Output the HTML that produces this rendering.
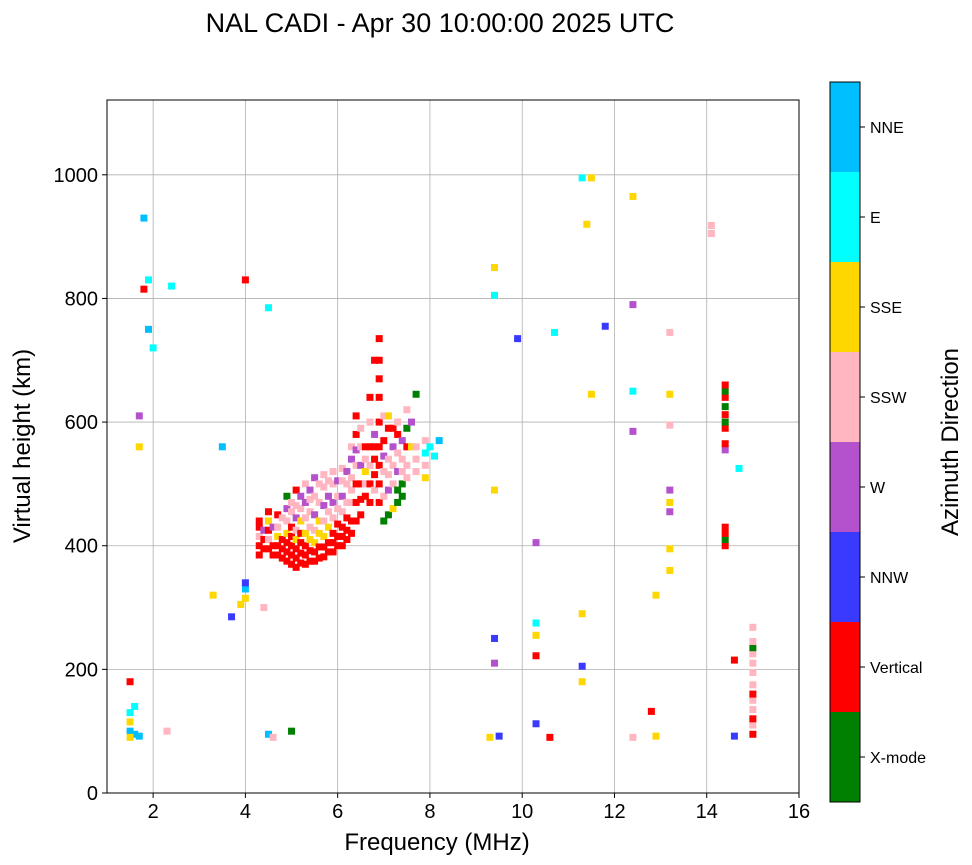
<!DOCTYPE html>
<html><head><meta charset="utf-8">
<style>
body{margin:0;background:#fff;font-family:"Liberation Sans",sans-serif;}
svg{display:block}
</style></head>
<body>
<svg id="chart" width="972" height="865" viewBox="0 0 972 865" xmlns="http://www.w3.org/2000/svg">
<text x="440" y="32" text-anchor="middle" font-size="27" font-family="Liberation Sans">NAL CADI - Apr 30 10:00:00 2025 UTC</text>
<g id="grid"></g>
<g id="marks"></g>
<rect x="107" y="100" width="692" height="693" fill="none" stroke="#000" stroke-width="1"/>
<g id="axes"></g>
<text x="437" y="850" text-anchor="middle" font-size="24">Frequency (MHz)</text>
<text transform="translate(30,446) rotate(-90)" text-anchor="middle" font-size="24">Virtual height (km)</text>
<g id="cbar"></g>
<text transform="translate(958,442) rotate(-90)" text-anchor="middle" font-size="24">Azimuth Direction</text>
</svg>
<script>
const xTicks=[2,4,6,8,10,12,14,16];
const yTicks=[0,200,400,600,800,1000];
const directions=["X-mode","Vertical","NNW","W","SSW","SSE","E","NNE"];
const dirColors=["#008000","#ff0000","#3a3aff","#b452cd","#ffb6c1","#ffd700","#00ffff","#00bfff"];
// [frequency MHz, virtual height km, direction index]
const echoes=[
[4.3,385,1],[4.3,400,1],[4.3,415,4],[4.3,430,1],[4.3,440,1],[4.4,410,1],[4.4,425,3],[4.4,395,1],
[4.5,395,1],[4.5,410,4],[4.5,425,1],[4.5,440,5],[4.5,455,1],[4.6,430,3],[4.6,400,1],[4.6,385,1],
[4.7,385,1],[4.7,400,1],[4.7,415,5],[4.7,430,4],[4.7,450,1],[4.8,395,1],[4.8,410,1],[4.8,445,4],[4.8,380,1],
[4.9,375,1],[4.9,390,1],[4.9,405,1],[4.9,420,5],[4.9,440,4],[4.9,460,3],[4.9,480,0],
[5.0,370,1],[5.0,385,1],[5.0,400,1],[5.0,430,1],[5.0,470,4],[5.0,415,1],[5.0,455,4],
[5.1,365,1],[5.1,380,1],[5.1,395,1],[5.1,410,5],[5.1,425,4],[5.1,445,3],[5.1,465,4],[5.1,490,1],
[5.2,372,1],[5.2,388,1],[5.2,405,1],[5.2,440,5],[5.2,480,3],[5.2,420,1],[5.2,460,4],
[5.3,370,1],[5.3,385,1],[5.3,400,1],[5.3,420,5],[5.3,445,4],[5.3,470,3],[5.3,500,4],
[5.4,375,1],[5.4,392,1],[5.4,410,5],[5.4,455,4],[5.4,490,3],[5.4,430,4],[5.4,475,4],
[5.5,375,1],[5.5,390,1],[5.5,405,5],[5.5,425,4],[5.5,450,3],[5.5,480,4],[5.5,510,3],
[5.6,380,1],[5.6,398,1],[5.6,420,5],[5.6,470,4],[5.6,500,4],[5.6,440,5],
[5.7,382,1],[5.7,398,1],[5.7,415,5],[5.7,440,4],[5.7,465,3],[5.7,495,4],[5.7,515,4],
[5.8,390,1],[5.8,405,1],[5.8,430,5],[5.8,480,3],[5.8,455,4],[5.8,505,4],
[5.9,390,1],[5.9,405,1],[5.9,420,1],[5.9,445,4],[5.9,470,3],[5.9,500,4],[5.9,520,4],
[6.0,400,1],[6.0,415,1],[6.0,435,1],[6.0,480,4],[6.0,460,4],[6.0,505,3],
[6.1,400,1],[6.1,415,1],[6.1,430,1],[6.1,455,4],[6.1,480,3],[6.1,505,4],[6.1,525,4],
[6.2,410,1],[6.2,425,1],[6.2,445,1],[6.2,500,4],[6.2,520,3],[6.2,470,4],
[6.3,420,1],[6.3,440,1],[6.3,470,4],[6.3,510,4],[6.3,540,3],[6.3,560,4],[6.3,490,4],
[6.4,440,1],[6.4,470,1],[6.4,530,4],[6.4,580,1],[6.4,610,1],[6.4,500,1],[6.4,555,3],
[6.5,450,1],[6.5,475,1],[6.5,500,1],[6.5,530,3],[6.5,560,4],[6.5,590,4],
[6.6,480,1],[6.6,520,5],[6.6,560,1],[6.6,500,4],[6.6,540,4],
[6.7,470,1],[6.7,500,1],[6.7,530,4],[6.7,560,1],[6.7,600,4],[6.7,640,1],
[6.8,490,4],[6.8,540,1],[6.8,580,3],[6.8,700,1],[6.8,515,1],[6.8,560,1],
[6.9,470,1],[6.9,500,1],[6.9,530,1],[6.9,560,1],[6.9,600,1],[6.9,640,1],[6.9,670,1],[6.9,700,1],[6.9,735,1],
[7.0,440,0],[7.0,480,4],[7.0,520,4],[7.0,570,1],[7.0,610,4],[7.0,545,3],
[7.1,450,0],[7.1,490,3],[7.1,540,4],[7.1,590,1],[7.1,610,5],[7.1,515,4],
[7.2,460,5],[7.2,500,4],[7.2,560,3],[7.2,590,1],[7.2,530,4],
[7.3,470,0],[7.3,490,0],[7.3,520,3],[7.3,550,4],[7.3,580,1],[7.3,600,4],
[7.4,480,0],[7.4,500,0],[7.4,540,4],[7.4,570,3],[7.4,520,4],
[7.5,510,4],[7.5,530,4],[7.5,560,1],[7.5,590,0],[7.5,620,4],
[7.6,560,5],[7.6,600,3],[7.7,520,4],[7.7,560,4],[7.7,645,0],[7.7,540,4],
[7.9,510,5],[7.9,530,4],[7.9,550,6],[7.9,570,4],[8.0,560,6],[8.1,545,6],[8.2,570,7],
[4.0,330,7],[4.0,340,2],[4.0,315,5],[3.9,305,5],[4.4,300,4],[4.5,95,7],[4.6,90,4],[5.0,100,0],
[1.5,100,7],[1.5,115,5],[1.5,130,6],[1.6,95,7],[1.6,140,6],[1.5,90,5],[1.7,92,7],[1.5,180,1],
[1.8,930,7],[1.9,830,6],[1.9,750,7],[2.0,720,6],[1.8,815,1],[2.4,820,6],[1.7,610,3],[1.7,560,5],
[2.3,100,4],[3.3,320,5],[3.7,285,2],[4.5,785,6],[4.0,830,1],[3.5,560,7],
[9.3,90,5],[9.5,92,2],[9.4,850,5],[9.4,805,6],[9.4,250,2],[9.4,210,3],[9.4,490,5],[9.9,735,2],
[10.3,112,2],[10.3,222,1],[10.3,275,6],[10.3,255,5],[10.3,405,3],[10.6,90,1],[10.7,745,6],
[11.3,995,6],[11.5,995,5],[11.4,920,5],[11.3,205,2],[11.3,180,5],[11.3,290,5],[11.5,645,5],[11.8,755,2],
[12.4,965,5],[12.4,790,3],[12.4,650,6],[12.4,585,3],[12.4,90,4],[12.8,132,1],[12.9,320,5],[12.9,92,5],
[13.2,490,3],[13.2,470,5],[13.2,455,3],[13.2,395,5],[13.2,360,5],[13.2,645,5],[13.2,595,4],[13.2,745,4],
[14.1,918,4],[14.1,905,4],[14.4,400,1],[14.4,410,0],[14.4,420,1],[14.4,430,1],
[14.4,555,3],[14.4,565,1],[14.4,590,1],[14.4,600,0],[14.4,612,1],[14.4,625,0],[14.4,640,1],[14.4,650,0],[14.4,660,1],
[14.7,525,6],[14.6,215,1],[14.6,92,2],[15.0,95,1],[15.0,110,4],[15.0,120,1],[15.0,135,4],[15.0,150,4],[15.0,160,1],[15.0,175,4],[15.0,195,4],[15.0,210,4],[15.0,225,4],[15.0,235,0],[15.0,245,4],[15.0,268,4]
];
const X0=107,X1=799,Y0=793,Y1=100,xmin=1,xmax=16,ymin=0,ymax=1121;
const xs=f=>X0+(f-xmin)/(xmax-xmin)*(X1-X0);
const ys=h=>Y0-(h-ymin)/(ymax-ymin)*(Y0-Y1);
const NS="http://www.w3.org/2000/svg";
function mk(tag,attrs,parent){const e=document.createElementNS(NS,tag);for(const k in attrs)e.setAttribute(k,attrs[k]);parent.appendChild(e);return e;}
const grid=document.getElementById('grid'),axes=document.getElementById('axes'),marks=document.getElementById('marks'),cbar=document.getElementById('cbar');
xTicks.forEach(t=>{const x=xs(t);
 const g=mk('line',{x1:x,x2:x,y1:Y1,y2:Y0,stroke:'#b0b0b0','stroke-width':0.8},grid);
 
 
 mk('line',{x1:x,x2:x,y1:Y0,y2:Y0+5,stroke:'#000'},axes);
 const tx=mk('text',{x:x,y:Y0+25,'text-anchor':'middle','font-size':20},axes);tx.textContent=t;
 
 
});
yTicks.forEach(t=>{const y=ys(t);
 const g=mk('line',{x1:X0,x2:X1,y1:y,y2:y,stroke:'#b0b0b0','stroke-width':0.8},grid);
 
 
 mk('line',{x1:X0-5,x2:X0,y1:y,y2:y,stroke:'#000'},axes);
 const tx=mk('text',{x:X0-9,y:y+7,'text-anchor':'end','font-size':20},axes);tx.textContent=t;
 
 
});
echoes.forEach(p=>{
 const r=mk('rect',{x:xs(p[0])-3.5,y:ys(p[1])-3.5,width:7,height:7,fill:dirColors[p[2]]},marks);
 
 
});
const CB0=830,CBW=30,CBT=82,CBB=802,seg=(CBB-CBT)/directions.length;
directions.forEach((d,i)=>{
 const y=CBB-(i+1)*seg;
 const r=mk('rect',{x:CB0,y:y,width:CBW,height:seg,fill:dirColors[i]},cbar);
 
 
 mk('line',{x1:CB0+CBW,x2:CB0+CBW+5,y1:y+seg/2,y2:y+seg/2,stroke:'#000'},cbar);
 const tx=mk('text',{x:CB0+CBW+10,y:y+seg/2+6,'font-size':16},cbar);tx.textContent=d;
 
 
});
mk('rect',{x:CB0,y:CBT,width:CBW,height:CBB-CBT,fill:'none',stroke:'#000'},cbar);
</script>
</body></html>
